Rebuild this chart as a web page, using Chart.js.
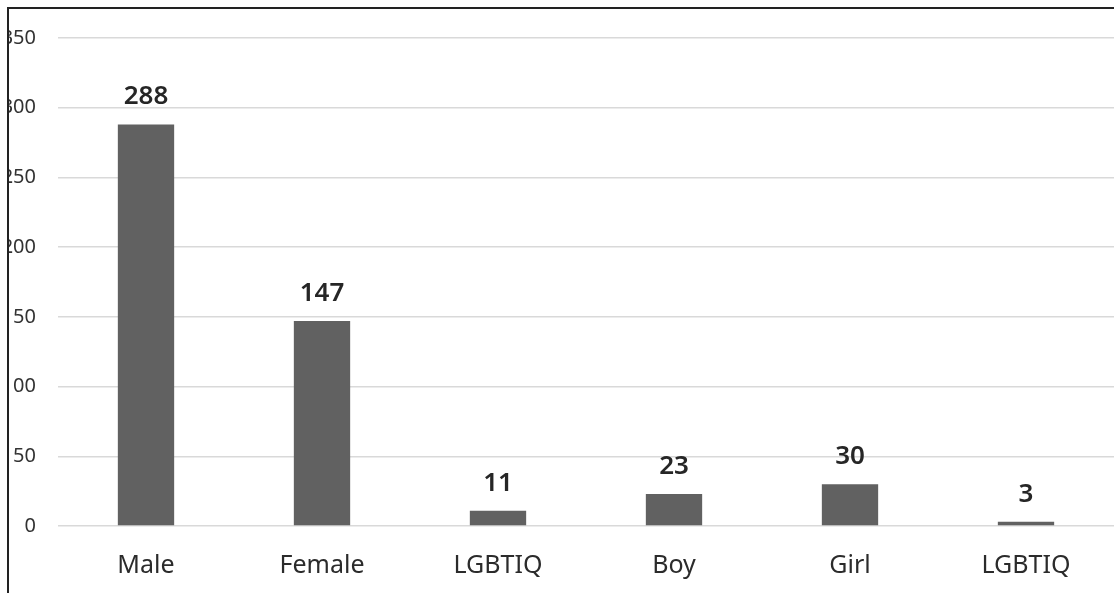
<!DOCTYPE html>
<html>
<head>
<meta charset="utf-8">
<script src="https://cdn.jsdelivr.net/npm/chart.js"></script>
<style>
  html, body { margin: 0; padding: 0; background: #fff; }
  #frame {
    position: absolute;
    left: 7px; top: 7px;
    width: 1107px; height: 586px;
    border-left: 2px solid #222;
    border-top: 2px solid #222;
    overflow: hidden;
  }
  #myChart { position: absolute; left: -9px; top: -9px; }
</style>
</head>
<body>
<div id="frame"><canvas id="myChart" width="1114" height="593"></canvas></div>
<script>
const categories = ['Male', 'Female', 'LGBTIQ', 'Boy', 'Girl', 'LGBTIQ'];
const counts = [288, 147, 11, 23, 30, 3];
const yTicks = [0, 50, 100, 150, 200, 250, 300, 350];

const FONT = "'Noto Sans', 'Open Sans', sans-serif";

// draws the numbers over each bar
const valueLabels = {
    id: 'valueLabels',
    afterDatasetsDraw(chart) {
        const ctx = chart.ctx;
        const meta = chart.getDatasetMeta(0);
        ctx.save();
        ctx.font = '600 26px ' + FONT;
        ctx.fillStyle = '#262626';
        ctx.textAlign = 'center';
        ctx.textBaseline = 'alphabetic';
        meta.data.forEach((bar, i) => {
            ctx.fillText(String(counts[i]), bar.x, bar.y - 20);
        });
        ctx.restore();
    }
};

new Chart(document.getElementById('myChart'), {
    type: 'bar',
    data: {
        labels: categories,
        datasets: [{
            data: counts,
            backgroundColor: '#616161',
            barPercentage: 0.32,
            categoryPercentage: 1.0
        }]
    },
    options: {
        responsive: false,
        animation: false,
        devicePixelRatio: 1,
        layout: { padding: { top: 38, right: 0, left: 0, bottom: 0 } },
        plugins: {
            legend: { display: false },
            tooltip: { enabled: false }
        },
        scales: {
            x: {
                grid: { display: false },
                border: { display: false },
                ticks: {
                    color: '#2b2b2b',
                    font: { family: FONT, size: 25 },
                    padding: 17,
                    maxRotation: 0
                },
                afterFit(scale) { scale.height = 67; }
            },
            y: {
                min: 0,
                max: 350,
                afterBuildTicks(scale) {
                    scale.ticks = yTicks.map(v => ({ value: v }));
                },
                grid: { color: '#d9d9d9', lineWidth: 1.5, drawTicks: false },
                border: { display: false },
                ticks: {
                    color: '#333',
                    font: { family: FONT, size: 20 },
                    padding: 22
                },
                afterFit(scale) { scale.width = 58; }
            }
        }
    },
    plugins: [valueLabels]
});
</script>
</body>
</html>
